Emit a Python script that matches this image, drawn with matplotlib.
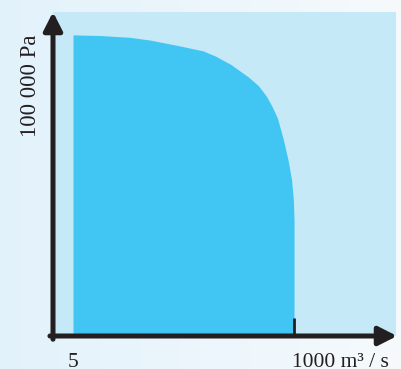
import numpy as np
import matplotlib
matplotlib.use("Agg")
import matplotlib.pyplot as plt

# pump curve: flow (m^3/s) against pressure (Pa)
flow = [5, 125, 260, 350, 475, 590, 645, 715, 795, 840, 875, 900, 925,
        950, 973, 989, 997, 1000, 1000]
pressure = [100000, 99800, 99200, 98300, 96500, 94700, 93000, 90200, 86000,
            83100, 79700, 76400, 72400, 65800, 58500, 51800, 45200, 38500, 0]
x_labels = ["5", "1000 m³ / s"]
y_label = "100 000 Pa"

W, H = 401, 369
plt.rcParams["font.family"] = ["Liberation Serif", "DejaVu Serif"]

fig = plt.figure(figsize=(W / 100, H / 100), dpi=100)

# soft horizontal gradient behind everything
bg = fig.add_axes([0, 0, 1, 1], zorder=0)
grad = np.linspace(0, 1, 256).reshape(1, -1)
cmap = matplotlib.colors.LinearSegmentedColormap.from_list("bg", ["#e2f2fb", "#f6fafd"])
bg.imshow(grad, aspect="auto", cmap=cmap, extent=[0, 1, 0, 1])
bg.set_axis_off()

# plot panel in pixel placement
left, right, top, bottom = 53, 396, 12, 336
ax = fig.add_axes([left / W, (H - bottom) / H, (right - left) / W, (bottom - top) / H], zorder=1)
ax.set_facecolor("#c6e9f8")
ax.set_xlim(-85, 1459)
ax.set_ylim(0, 107600)
for s in ax.spines.values():
    s.set_visible(False)
ax.set_xticks([])
ax.set_yticks([])

ax.fill_between(flow, pressure, 0, color="#41c6f3", lw=0)

axis_col = "#231f20"
arrow = dict(arrowstyle="-|>,head_length=0.55,head_width=0.28", lw=3.6,
             color=axis_col, shrinkA=0, shrinkB=0, mutation_scale=20)
ax.annotate("", xy=(0, 1.0), xytext=(0, -0.01), xycoords="axes fraction",
            arrowprops=arrow, annotation_clip=False)
ax.annotate("", xy=(1.003, 0), xytext=(-0.009, 0), xycoords="axes fraction",
            arrowprops=arrow, annotation_clip=False)

# tick at the maximum flow
ax.plot([flow[-1], flow[-1]], [0, 6000], color=axis_col, lw=2, solid_capstyle="butt",
        clip_on=False)

xt = ax.get_xaxis_transform()
ax.text(flow[0], -0.096, x_labels[0], transform=xt, ha="center", va="baseline",
        fontsize=15.5, color=axis_col)
ax.text(flow[-1] - 8, -0.096, x_labels[1], transform=xt, ha="left", va="baseline",
        fontsize=15.5, color=axis_col)
ax.text(-0.066, 0.772, y_label, transform=ax.transAxes, rotation=90,
        ha="center", va="center", fontsize=16.5, color=axis_col)

fig.savefig("out.png", dpi=100)
